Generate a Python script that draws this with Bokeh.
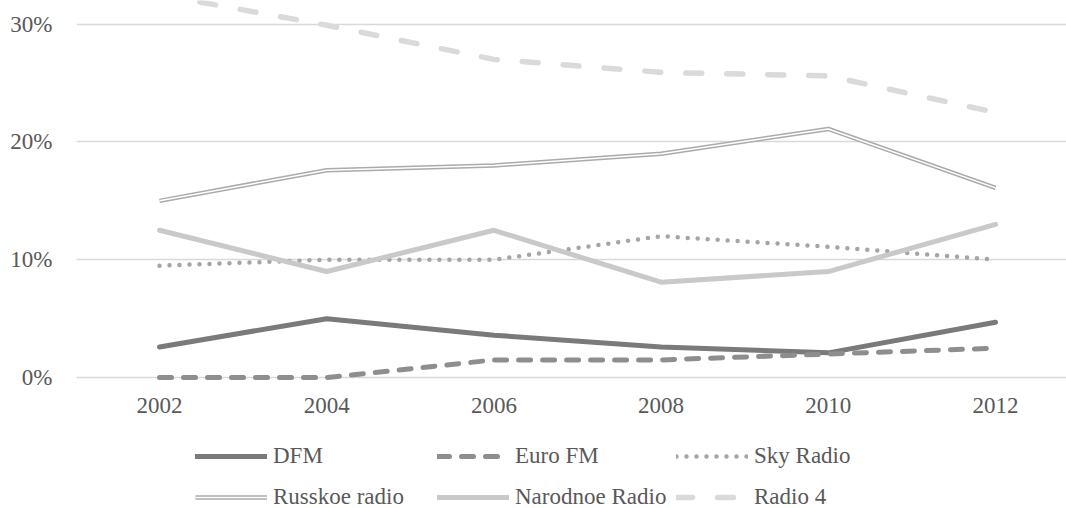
from bokeh.plotting import figure
from bokeh.layouts import column
from bokeh.models import Range1d, FixedTicker, Legend, LegendItem
from bokeh.embed import file_html
from bokeh.resources import INLINE

# ---- data ----
years = [2002, 2004, 2006, 2008, 2010, 2012]
dfm = [2.6, 5.0, 3.6, 2.6, 2.1, 4.7]
euro_fm = [0.0, 0.0, 1.5, 1.5, 2.0, 2.5]
sky_radio = [9.5, 10.0, 10.0, 12.0, 11.1, 10.0]
russkoe_radio = [15.0, 17.6, 18.0, 19.0, 21.1, 16.1]
narodnoe_radio = [12.5, 9.0, 12.5, 8.1, 9.0, 13.0]
radio_4 = [32.5, 29.9, 27.0, 25.9, 25.6, 22.5]

y_ticks = [0, 10, 20, 30]
y_tick_labels = ["0%", "10%", "20%", "30%"]
series_names = ["DFM", "Euro FM", "Sky Radio", "Russkoe radio", "Narodnoe Radio", "Radio 4"]

FONT = "Liberation Serif"
TXT = "#595959"
NAN = float("nan")

styles = [
    [dict(line_color="#7a7a7a", line_width=5, line_cap="round", line_join="round")],
    [dict(line_color="#8e8e8e", line_width=5, line_dash="12 12", line_cap="round")],
    [dict(line_color="#a5a5a5", line_width=4.5, line_dash="0 10", line_cap="round")],
    [dict(line_color="#ababab", line_width=4.5, line_join="round"),
     dict(line_color="white", line_width=1.5, line_join="round")],
    [dict(line_color="#c9c9c9", line_width=5, line_cap="round", line_join="round")],
    [dict(line_color="#dadada", line_width=5.5, line_dash="16 25", line_cap="round")],
]
series_values = [dfm, euro_fm, sky_radio, russkoe_radio, narodnoe_radio, radio_4]

p = figure(width=1066, height=430, output_backend="svg", toolbar_location=None,
           x_range=Range1d(2001.007, 2012.849), y_range=Range1d(-0.5, 32.0),
           min_border_left=76, min_border_right=0, min_border_top=0, min_border_bottom=47)
p.outline_line_color = None
p.border_fill_color = "white"

p.xgrid.visible = False
p.ygrid.grid_line_color = "#d9d9d9"
p.ygrid.grid_line_width = 1.5
p.yaxis.ticker = FixedTicker(ticks=y_ticks)
p.yaxis.major_label_overrides = {t: l for t, l in zip(y_ticks, y_tick_labels)}
p.xaxis.ticker = FixedTicker(ticks=years)

for ax in (p.xaxis[0], p.yaxis[0]):
    ax.axis_line_color = None
    ax.major_tick_line_color = None
    ax.minor_tick_line_color = None
    ax.major_tick_out = 0
    ax.major_tick_in = 0
    ax.minor_tick_out = 0
    ax.major_label_text_font = FONT
    ax.major_label_text_font_size = "23px"
    ax.major_label_text_color = TXT
p.yaxis.major_label_standoff = 24
p.xaxis.major_label_standoff = 14

for vals, sty in zip(series_values, styles):
    for s in sty:
        p.line(years, vals, **s)

# ---- legend strip below the chart ----
p2 = figure(width=1066, height=78, output_backend="svg", toolbar_location=None,
            x_range=Range1d(0, 1066), y_range=Range1d(0, 78),
            min_border_left=0, min_border_right=0, min_border_top=0, min_border_bottom=0)
p2.axis.visible = False
p2.grid.visible = False
p2.outline_line_color = None
p2.border_fill_color = "white"

col_x = [119, 361, 600]
row_y = [37, -4]
for i, (name, sty) in enumerate(zip(series_names, styles)):
    rs = [p2.line(x=[NAN], y=[NAN], **s) for s in sty]
    lg = Legend(items=[LegendItem(label=name, renderers=rs)],
                location=(col_x[i % 3], row_y[i // 3]))
    lg.glyph_width = 72
    lg.glyph_height = 30
    lg.label_height = 30
    lg.label_standoff = 6
    lg.padding = 0
    lg.margin = 0
    lg.spacing = 0
    lg.border_line_color = None
    lg.background_fill_alpha = 0
    lg.label_text_font = FONT
    lg.label_text_font_size = "23px"
    lg.label_text_color = TXT
    p2.add_layout(lg)

layout = column(p, p2, spacing=0)
open("out.html", "w").write(file_html(layout, INLINE))
